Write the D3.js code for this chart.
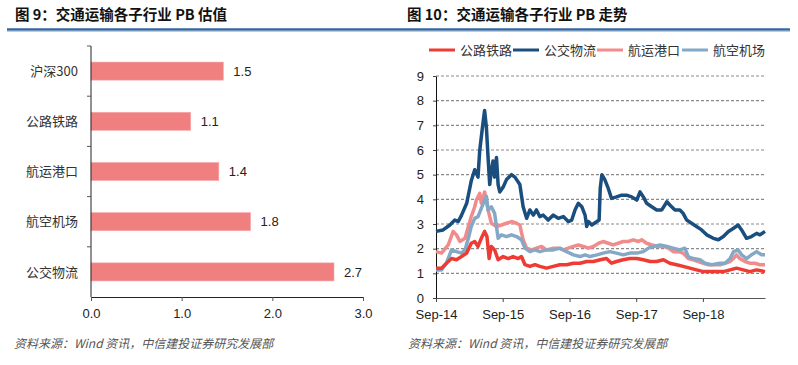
<!DOCTYPE html>
<html><head><meta charset="utf-8">
<script src="https://cdn.jsdelivr.net/npm/d3@7"></script>
<style>
body{margin:0;background:#fff;}
svg{display:block;font-family:"Liberation Sans",Arial,sans-serif;}
</style></head>
<body><svg id="c" width="798" height="365"></svg>
<script>
// ---------- Data ----------
const barCategories = ["沪深300","公路铁路","航运港口","航空机场","公交物流"];
const barValues = [1.46, 1.10, 1.41, 1.76, 2.68];
const barTicks = [0, 1, 2, 3];

const seriesNames = ["公路铁路","公交物流","航运港口","航空机场"];
const xTickLabels = ["Sep-14","Sep-15","Sep-16","Sep-17","Sep-18"];
const yTicks = [0,1,2,3,4,5,6,7,8,9];

const roadRail = [["2014-09-01",1.21],["2014-10-01",1.21],["2014-10-28",1.41],["2014-11-25",1.6],["2014-12-22",1.55],["2015-01-19",1.68],["2015-02-16",1.82],["2015-03-13",2.22],["2015-04-01",2.29],["2015-04-19",2.09],["2015-05-07",2.42],["2015-05-25",2.7],["2015-06-07",2.49],["2015-06-19",1.6],["2015-07-01",2.09],["2015-07-19",1.95],["2015-08-07",1.55],["2015-09-04",1.68],["2015-10-01",1.6],["2015-10-28",1.68],["2015-11-25",1.6],["2015-12-13",1.68],["2016-01-01",1.35],["2016-01-28",1.28],["2016-02-25",1.35],["2016-03-22",1.28],["2016-04-28",1.21],["2016-06-04",1.28],["2016-07-10",1.35],["2016-08-16",1.35],["2016-09-22",1.41],["2016-10-28",1.41],["2016-12-04",1.48],["2017-01-10",1.48],["2017-02-16",1.55],["2017-03-22",1.6],["2017-04-19",1.41],["2017-05-16",1.48],["2017-06-22",1.55],["2017-07-28",1.6],["2017-09-04",1.6],["2017-10-10",1.55],["2017-11-16",1.48],["2017-12-22",1.48],["2018-01-28",1.55],["2018-03-04",1.41],["2018-04-10",1.35],["2018-05-16",1.28],["2018-06-22",1.21],["2018-07-28",1.14],["2018-09-04",1.07],["2018-10-10",1.07],["2018-11-16",1.07],["2018-12-22",1.07],["2019-01-28",1.14],["2019-03-04",1.21],["2019-04-10",1.14],["2019-05-16",1.07],["2019-06-22",1.14],["2019-08-07",1.07]];

const busLogistics = [["2014-09-01",2.7],["2014-10-10",2.76],["2014-11-16",2.96],["2014-12-13",3.16],["2015-01-01",3.1],["2015-01-19",3.36],["2015-02-16",3.84],["2015-03-13",4.75],["2015-04-01",5.2],["2015-04-19",4.9],["2015-04-28",5.95],["2015-05-13",6.9],["2015-05-25",7.6],["2015-06-04",6.9],["2015-06-13",5.7],["2015-06-22",4.6],["2015-07-01",5.15],["2015-07-10",5.55],["2015-07-19",4.9],["2015-07-29",5.7],["2015-08-07",4.6],["2015-08-16",4.3],["2015-09-04",4.5],["2015-09-22",4.8],["2015-10-19",5.0],["2015-11-07",4.9],["2015-12-04",4.6],["2015-12-22",3.7],["2016-01-10",3.23],["2016-01-28",3.57],["2016-02-16",3.36],["2016-03-04",3.57],["2016-03-22",3.3],["2016-04-10",3.36],["2016-05-07",3.16],["2016-06-04",3.36],["2016-07-01",3.23],["2016-07-29",3.3],["2016-08-25",3.1],["2016-09-13",3.16],["2016-10-01",3.57],["2016-10-19",3.84],["2016-11-07",3.7],["2016-11-25",3.36],["2016-12-04",2.9],["2016-12-13",3.1],["2017-01-01",2.96],["2017-01-29",3.1],["2017-02-10",3.16],["2017-02-16",4.44],["2017-02-25",5.0],["2017-03-13",4.8],["2017-04-01",4.44],["2017-04-19",4.04],["2017-05-16",4.1],["2017-06-13",4.17],["2017-07-10",4.17],["2017-08-07",4.1],["2017-09-04",3.97],["2017-09-22",4.3],["2017-10-10",4.1],["2017-10-28",3.84],["2017-11-25",3.7],["2017-12-22",3.57],["2018-01-19",3.57],["2018-02-16",3.9],["2018-03-04",3.77],["2018-04-01",3.57],["2018-04-28",3.57],["2018-05-16",3.43],["2018-06-04",3.16],["2018-07-01",3.03],["2018-07-28",2.9],["2018-08-25",2.76],["2018-09-22",2.56],["2018-10-28",2.42],["2018-11-25",2.36],["2018-12-22",2.49],["2019-01-19",2.7],["2019-02-16",2.83],["2019-03-13",2.96],["2019-04-01",2.76],["2019-04-28",2.42],["2019-05-25",2.49],["2019-06-22",2.62],["2019-07-10",2.56],["2019-08-07",2.7]];

const shippingPorts = [["2014-09-01",1.88],["2014-10-01",1.82],["2014-11-07",2.15],["2014-12-04",2.7],["2014-12-22",2.56],["2015-01-10",2.29],["2015-02-07",2.42],["2015-02-25",2.9],["2015-03-13",3.3],["2015-04-01",3.7],["2015-04-10",3.97],["2015-04-28",4.24],["2015-05-07",3.84],["2015-05-25",4.3],["2015-06-13",3.57],["2015-07-01",3.03],["2015-07-29",2.9],["2015-08-25",2.96],["2015-09-22",3.03],["2015-10-19",3.1],["2015-11-16",3.03],["2015-12-04",2.96],["2015-12-22",2.36],["2016-01-10",2.02],["2016-02-07",1.95],["2016-03-04",2.02],["2016-04-01",2.09],["2016-04-28",1.95],["2016-06-04",2.02],["2016-07-01",2.02],["2016-07-29",1.95],["2016-08-25",2.02],["2016-09-22",2.09],["2016-10-19",2.15],["2016-11-16",2.09],["2016-12-13",2.02],["2017-01-10",2.09],["2017-02-07",2.22],["2017-03-04",2.29],["2017-04-01",2.22],["2017-04-28",2.15],["2017-05-25",2.22],["2017-06-22",2.29],["2017-07-19",2.29],["2017-08-16",2.36],["2017-09-13",2.29],["2017-10-01",2.36],["2017-10-28",2.22],["2017-11-25",2.15],["2018-01-01",2.09],["2018-01-28",2.09],["2018-02-25",2.02],["2018-03-22",1.88],["2018-04-19",1.88],["2018-05-16",1.82],["2018-06-13",1.6],["2018-07-10",1.55],["2018-08-07",1.48],["2018-09-04",1.41],["2018-10-01",1.35],["2018-10-28",1.35],["2018-12-04",1.35],["2019-01-01",1.41],["2019-01-28",1.48],["2019-02-16",1.6],["2019-03-04",1.75],["2019-03-22",1.6],["2019-04-19",1.48],["2019-05-16",1.41],["2019-06-13",1.41],["2019-07-10",1.35],["2019-08-07",1.35]];

const airAirports = [["2014-09-01",1.14],["2014-10-01",1.14],["2014-10-28",1.41],["2014-11-25",1.95],["2014-12-22",1.88],["2015-01-19",1.82],["2015-02-07",1.95],["2015-02-25",2.42],["2015-03-13",2.9],["2015-04-01",3.23],["2015-04-19",3.3],["2015-05-07",3.63],["2015-05-25",3.97],["2015-06-04",4.12],["2015-06-13",3.57],["2015-07-01",3.7],["2015-07-19",3.43],["2015-08-07",2.42],["2015-08-25",2.56],["2015-09-22",2.49],["2015-10-19",2.56],["2015-11-16",2.49],["2015-12-13",2.36],["2016-01-01",2.02],["2016-01-28",1.88],["2016-02-25",1.95],["2016-03-22",1.88],["2016-04-28",1.95],["2016-06-04",1.95],["2016-07-10",2.02],["2016-08-16",1.88],["2016-09-22",1.75],["2016-10-28",1.68],["2016-11-25",1.75],["2016-12-22",1.68],["2017-01-29",1.75],["2017-03-04",1.82],["2017-04-10",1.88],["2017-05-16",1.82],["2017-06-22",1.75],["2017-07-28",1.82],["2017-09-04",1.82],["2017-10-10",1.88],["2017-11-07",2.02],["2017-12-04",2.09],["2018-01-10",2.15],["2018-02-16",2.09],["2018-03-22",2.02],["2018-04-28",1.95],["2018-05-25",2.02],["2018-06-13",1.68],["2018-07-10",1.6],["2018-08-16",1.55],["2018-09-13",1.41],["2018-10-19",1.35],["2018-12-04",1.41],["2019-01-01",1.41],["2019-01-28",1.6],["2019-02-16",1.88],["2019-03-13",1.95],["2019-04-01",1.75],["2019-04-28",1.6],["2019-05-25",1.75],["2019-06-22",1.88],["2019-07-19",1.75],["2019-08-07",1.75]];

const lineColors = ["#EE3B33","#1A4E7E","#F28B8B","#84A9C6"];
const barColor = "#F08080";

// ---------- Drawing ----------
const svg = d3.select("#c");
const cjk = '"Noto Sans CJK SC","Liberation Sans",sans-serif';

function header(x, x1, x2, text){
  svg.append("text").attr("x",x).attr("y",20).attr("font-family",cjk)
    .attr("font-size",14.5).attr("font-weight","bold").attr("fill","#111").text(text);
  svg.append("line").attr("x1",x1).attr("x2",x2).attr("y1",29.5).attr("y2",29.5)
    .attr("stroke","#3567A3").attr("stroke-width",2.5);
  svg.append("line").attr("x1",x1).attr("x2",x2).attr("y1",31.3).attr("y2",31.3)
    .attr("stroke","#A9C0DC").attr("stroke-width",1);
}
header(15, 7, 400, "图 9：交通运输各子行业 PB 估值");
header(407, 400, 790, "图 10：交通运输各子行业 PB 走势");

function footer(x, text){
  svg.append("text").attr("x",x).attr("y",348).attr("font-family",cjk)
    .attr("font-size",12).attr("font-style","italic").attr("fill","#555").text(text);
}
footer(14, "资料来源：Wind 资讯，中信建投证券研究发展部");
footer(408, "资料来源：Wind 资讯，中信建投证券研究发展部");

// ---- Left bar chart ----
const bx = d3.scaleLinear().domain([0,3]).range([91,363]);
const by = d3.scaleBand().domain(barCategories).range([46,297]).paddingInner(0.64).paddingOuter(0.32);
const gL = svg.append("g");
gL.selectAll("rect.bar").data(barValues).join("rect").attr("class","bar")
  .attr("x",bx(0)).attr("y",(d,i)=>by(barCategories[i]))
  .attr("width",d=>bx(d)-bx(0)).attr("height",by.bandwidth())
  .attr("fill",barColor).attr("stroke","#F6A9A9").attr("stroke-width",0.6);
gL.selectAll("text.val").data(barValues).join("text").attr("class","val")
  .attr("x",d=>bx(d)+10).attr("y",(d,i)=>by(barCategories[i])+by.bandwidth()/2)
  .attr("dy","0.36em").attr("font-size",13).attr("fill","#222").text(d=>d3.format(".1f")(d));
gL.selectAll("text.cat").data(barCategories).join("text").attr("class","cat")
  .attr("x",78).attr("y",d=>by(d)+by.bandwidth()/2).attr("dy","0.36em")
  .attr("text-anchor","end").attr("font-family",cjk).attr("font-size",13).attr("fill","#333").text(d=>d);
gL.append("line").attr("x1",91).attr("x2",91).attr("y1",46).attr("y2",297).attr("stroke","#222");
const bounds = barCategories.map(c=>by(c)-by.step()*by.paddingInner()/2).slice(1);
gL.selectAll("line.bt").data(bounds.concat([46])).join("line").attr("class","bt")
  .attr("x1",87).attr("x2",91).attr("y1",d=>d).attr("y2",d=>d).attr("stroke","#555");
const xAxL = gL.append("g").attr("transform","translate(0,297)")
  .call(d3.axisBottom(bx).tickValues(barTicks).tickFormat(d3.format(".1f")).tickSize(4).tickSizeOuter(0));
xAxL.select(".domain").attr("stroke","#222");
xAxL.selectAll(".tick line").attr("stroke","#555");
xAxL.selectAll(".tick text").attr("font-size",13).attr("fill","#222").attr("dy","1.1em")
  .attr("font-family",'"Liberation Sans",Arial,sans-serif');

// ---- Right line chart ----
const parse = d3.timeParse("%Y-%m-%d");
const x = d3.scaleTime().domain([parse("2014-09-01"), parse("2019-08-07")]).range([436,765]);
const y = d3.scaleLinear().domain([0,9]).range([298,76]);
const gR = svg.append("g");
gR.selectAll("line.grid").data(yTicks.filter(d=>d>0)).join("line").attr("class","grid")
  .attr("x1",436).attr("x2",765).attr("y1",d=>y(d)).attr("y2",d=>y(d))
  .attr("stroke","#8a8a8a").attr("stroke-width",1.2).attr("stroke-dasharray","3,2");
const yAx = gR.append("g").attr("transform","translate(436,0)")
  .call(d3.axisLeft(y).tickValues(yTicks).tickSize(3).tickPadding(9).tickSizeOuter(0));
yAx.select(".domain").attr("stroke","#111");
yAx.selectAll(".tick line").attr("stroke","#444");
yAx.selectAll(".tick text").attr("font-size",13).attr("fill","#222").attr("font-family",'"Liberation Sans",Arial,sans-serif');
const xTickDates = xTickLabels.map(d=>d3.timeParse("%b-%y")(d));
const xAx = gR.append("g").attr("transform","translate(0,298)")
  .call(d3.axisBottom(x).tickValues(xTickDates).tickFormat((d,i)=>xTickLabels[i]).tickSize(4).tickSizeOuter(0));
xAx.select(".domain").attr("stroke","#555");
xAx.selectAll(".tick line").attr("stroke","#444");
xAx.selectAll(".tick text").attr("font-size",13).attr("fill","#222").attr("dy","1.05em").attr("font-family",'"Liberation Sans",Arial,sans-serif');
const allSeries = [roadRail, busLogistics, shippingPorts, airAirports];
const line = d3.line().x(d=>x(parse(d[0]))).y(d=>y(d[1])).curve(d3.curveLinear);
[2,3,0,1].forEach(i=>{
  gR.append("path").datum(allSeries[i]).attr("d",line).attr("fill","none")
    .attr("stroke",lineColors[i]).attr("stroke-width",3.5).attr("stroke-linejoin","round");
});
const legX = [429, 513, 597, 682];
const leg = gR.selectAll("g.leg").data(seriesNames).join("g").attr("class","leg")
  .attr("transform",(d,i)=>`translate(${legX[i]},50)`);
leg.append("line").attr("x1",0).attr("x2",26).attr("y1",0).attr("y2",0)
  .attr("stroke",(d,i)=>lineColors[i]).attr("stroke-width",3);
leg.append("text").attr("x",31).attr("y",0).attr("dy","0.36em").attr("font-family",cjk)
  .attr("font-size",13).attr("fill","#333").text(d=>d);
</script></body></html>
